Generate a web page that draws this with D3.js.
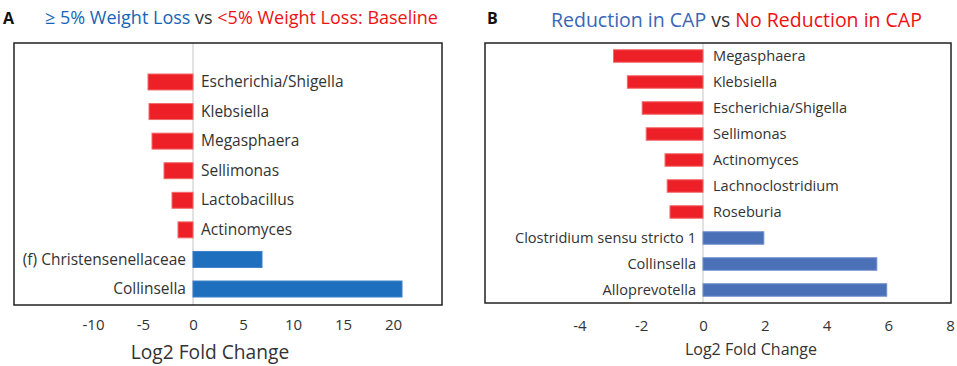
<!DOCTYPE html>
<html>
<head>
<meta charset="utf-8">
<script src="https://cdn.jsdelivr.net/npm/d3@7"></script>
<style>
  html, body { margin: 0; padding: 0; background: #fff; }
  svg { display: block; }
  text { font-family: "Open Sans", Lato, sans-serif; }
</style>
</head>
<body>
<svg id="chart" width="957" height="366"></svg>
<script>
// ---------- Data ----------
const categoriesA = ["Escherichia/Shigella", "Klebsiella", "Megasphaera", "Sellimonas",
  "Lactobacillus", "Actinomyces", "(f) Christensenellaceae", "Collinsella"];
const valuesA = [-4.5, -4.4, -4.1, -2.9, -2.1, -1.5, 6.9, 20.9];
const ticksA = [-10, -5, 0, 5, 10, 15, 20];

const categoriesB = ["Megasphaera", "Klebsiella", "Escherichia/Shigella", "Sellimonas",
  "Actinomyces", "Lachnoclostridium", "Roseburia", "Clostridium sensu stricto 1",
  "Collinsella", "Alloprevotella"];
const valuesB = [-2.9, -2.45, -1.97, -1.84, -1.23, -1.16, -1.07, 1.97, 5.63, 5.95];
const ticksB = [-4, -2, 0, 2, 4, 6, 8];

const svg = d3.select("#chart");
const RED = "#ee2027", RED_EDGE = "#f26a6a";
const FONT = "'Open Sans', Lato, sans-serif";

// ---------- Panel A ----------
(function () {
  const g = svg.append("g");
  const x = d3.scaleLinear().domain([-10, 20]).range([93, 393]);
  const y = d3.scaleBand().domain(categoriesA).range([67.2, 303.8]).paddingInner(0.46).paddingOuter(0.23);
  const box = { x0: 14, x1: 442, y0: 43, y1: 305 };

  g.append("line").attr("x1", x(0)).attr("x2", x(0)).attr("y1", box.y0).attr("y2", box.y1)
    .attr("stroke", "#d9d9d9").attr("stroke-width", 1.5);

  const data = categoriesA.map((c, i) => ({ c, v: valuesA[i] }));
  g.selectAll("rect.bar").data(data).join("rect").attr("class", "bar")
    .attr("x", d => x(Math.min(0, d.v)))
    .attr("width", d => Math.abs(x(d.v) - x(0)))
    .attr("y", d => y(d.c)).attr("height", y.bandwidth())
    .attr("fill", d => d.v < 0 ? RED : "#1f6fbf")
    .attr("stroke", d => d.v < 0 ? RED_EDGE : "#3a7fc8").attr("stroke-width", 1);

  g.selectAll("text.lab").data(data).join("text").attr("class", "lab")
    .attr("x", d => d.v < 0 ? x(0) + 8 : x(0) - 7)
    .attr("y", d => y(d.c) + y.bandwidth() / 2 + 1)
    .attr("dominant-baseline", "middle")
    .attr("text-anchor", d => d.v < 0 ? "start" : "end")
    .attr("font-size", 15.5).attr("fill", "#333")
    .text(d => d.c);

  g.append("rect").attr("x", box.x0).attr("y", box.y0)
    .attr("width", box.x1 - box.x0).attr("height", box.y1 - box.y0)
    .attr("fill", "none").attr("stroke", "#222").attr("stroke-width", 1.5);

  const ax = g.append("g").attr("transform", `translate(0,${box.y1})`)
    .call(d3.axisBottom(x).tickValues(ticksA).tickSize(0).tickPadding(14).tickFormat(d => String(d)));
  ax.select(".domain").remove();
  ax.selectAll("text").attr("font-size", 15).attr("fill", "#333").attr("font-family", FONT);

  g.append("text").attr("x", 210).attr("y", 359).attr("text-anchor", "middle")
    .attr("font-size", 19.2).attr("fill", "#333").text("Log2 Fold Change");

  g.append("text").attr("x", 3).attr("y", 24).attr("font-size", 16).attr("font-weight", "bold")
    .attr("fill", "#111").text("A");
  const t = g.append("text").attr("x", 45).attr("y", 24).attr("font-size", 18);
  t.append("tspan").attr("fill", "#1565b8").text("\u2265 5% Weight Loss");
  t.append("tspan").attr("fill", "#333").text(" vs ");
  t.append("tspan").attr("fill", "#ee1111").text("<5% Weight Loss: Baseline");
})();

// ---------- Panel B ----------
(function () {
  const g = svg.append("g");
  const x = d3.scaleLinear().domain([-4, 8]).range([579.5, 950]);
  const box = { x0: 485, x1: 951, y0: 43, y1: 303 };
  const y = d3.scaleBand().domain(categoriesB).range([box.y0, box.y1]).paddingInner(0.52).paddingOuter(0.26);

  g.append("line").attr("x1", x(0)).attr("x2", x(0)).attr("y1", box.y0).attr("y2", box.y1)
    .attr("stroke", "#d9d9d9").attr("stroke-width", 1.5);

  const data = categoriesB.map((c, i) => ({ c, v: valuesB[i] }));
  g.selectAll("rect.bar").data(data).join("rect").attr("class", "bar")
    .attr("x", d => x(Math.min(0, d.v)))
    .attr("width", d => Math.abs(x(d.v) - x(0)))
    .attr("y", d => y(d.c)).attr("height", y.bandwidth())
    .attr("fill", d => d.v < 0 ? RED : "#4a70b8")
    .attr("stroke", d => d.v < 0 ? RED_EDGE : "#6f8fcc").attr("stroke-width", 1);

  g.selectAll("text.lab").data(data).join("text").attr("class", "lab")
    .attr("x", d => d.v < 0 ? x(0) + 10 : x(0) - 7)
    .attr("y", d => y(d.c) + y.bandwidth() / 2 + 1)
    .attr("dominant-baseline", "middle")
    .attr("text-anchor", d => d.v < 0 ? "start" : "end")
    .attr("font-size", 14.6).attr("fill", "#333")
    .text(d => d.c);

  g.append("rect").attr("x", box.x0).attr("y", box.y0)
    .attr("width", box.x1 - box.x0).attr("height", box.y1 - box.y0)
    .attr("fill", "none").attr("stroke", "#222").attr("stroke-width", 1.5);

  const ax = g.append("g").attr("transform", `translate(0,${box.y1})`)
    .call(d3.axisBottom(x).tickValues(ticksB).tickSize(0).tickPadding(17).tickFormat(d => String(d)));
  ax.select(".domain").remove();
  ax.selectAll("text").attr("font-size", 15).attr("fill", "#333").attr("font-family", FONT);

  g.append("text").attr("x", 751).attr("y", 355).attr("text-anchor", "middle")
    .attr("font-size", 16).attr("fill", "#333").text("Log2 Fold Change");

  g.append("text").attr("x", 487).attr("y", 24).attr("font-size", 16).attr("font-weight", "bold")
    .attr("fill", "#111").text("B");
  const t = g.append("text").attr("x", 551).attr("y", 27).attr("font-size", 19.5);
  t.append("tspan").attr("fill", "#3a66b8").text("Reduction in CAP");
  t.append("tspan").attr("fill", "#333").text(" vs ");
  t.append("tspan").attr("fill", "#ee1111").text("No Reduction in CAP");
})();
</script>
</body>
</html>
